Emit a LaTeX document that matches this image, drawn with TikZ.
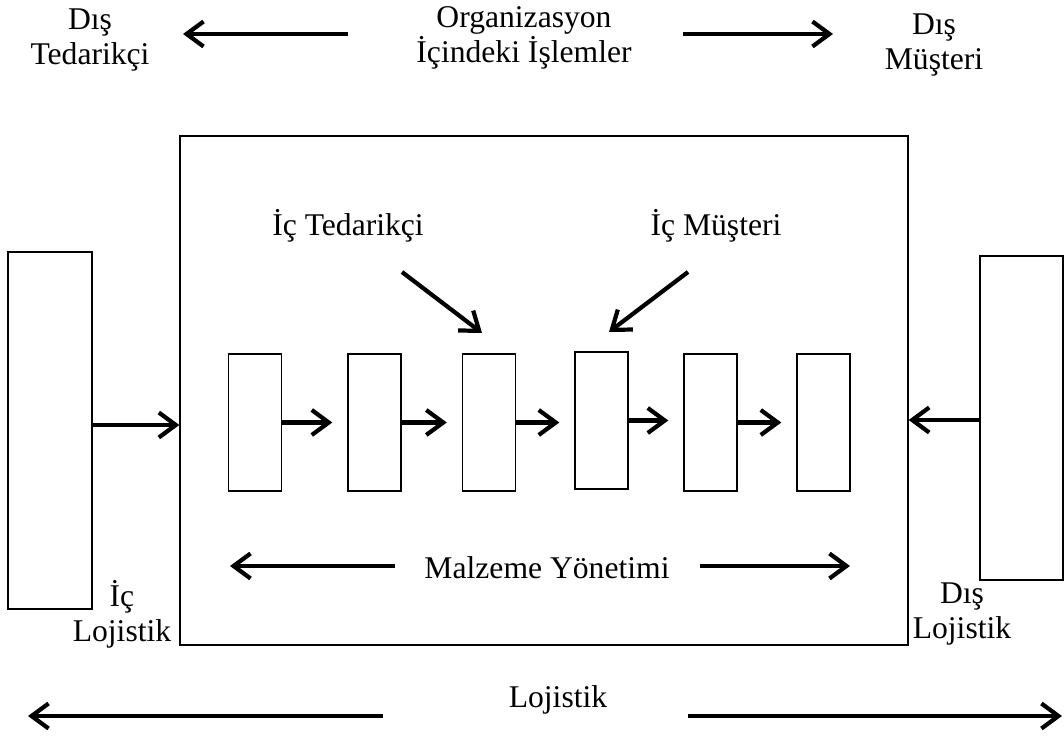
\documentclass[tikz,border=0pt]{standalone}
\usepackage{fontspec}
\setmainfont{Liberation Serif}
\usepackage{tikz}
\usetikzlibrary{arrows.meta,positioning,calc}

\begin{document}
\begin{tikzpicture}[
    x=0.02cm, y=-0.02cm,
    lbl/.style={align=center, inner sep=0pt, font=\fontsize{18}{20}\selectfont},
    blk/.style={rectangle, draw, line width=0.8pt, inner sep=0pt, minimum width=1.06cm, minimum height=2.74cm},
    tallbox/.style={rectangle, draw, line width=0.8pt, inner sep=0pt, minimum width=1.68cm},
    arrow/.style={-{Straight Barb[length=0.34cm, width=0.5cm, line width=2.4pt]}, line width=2.4pt}
]
    \useasboundingbox (0,0) rectangle (1064,736);

    % top labels
    \node[lbl] (dtedarik) at (90,40) {Dış\\Tedarikçi};
    \node[lbl] (orgin) at (524,38) {Organizasyon\\İçindeki İşlemler};
    \node[lbl] (dmusteri) at (934,45) {Dış\\Müşteri};
    \coordinate (tl1) at (348,34);
    \coordinate (tl2) at (183,34);
    \coordinate (tr1) at (683,34);
    \coordinate (tr2) at (833,34);

    % main frame and outer boxes
    \node[rectangle, draw, line width=0.8pt, inner sep=0pt, minimum width=14.56cm, minimum height=10.18cm] (org) at (544,390.5) {};
    \node[tallbox, minimum height=7.14cm] (lbox) at (50,430.5) {};
    \node[tallbox, minimum width=1.66cm, minimum height=6.48cm] (rbox) at (1021.5,418) {};

    % process steps
    \node[blk] (b1) at (255,422.5) {};
    \node[blk] (b2) at (374.5,422.5) {};
    \node[blk] (b3) at (489,422.5) {};
    \node[blk] (b4) at (601.5,420.5) {};
    \node[blk] (b5) at (710.5,422.5) {};
    \node[blk] (b6) at (823.5,422.5) {};

    \node[lbl] (itedarik) at (348,226) {İç Tedarikçi};
    \node[lbl] (imusteri) at (716,226) {İç Müşteri};
    \coordinate (it1) at (402,272);
    \coordinate (it2) at (482,333);
    \coordinate (im1) at (688,272);
    \coordinate (im2) at (609,332);

    \node[lbl] (malz) at (547,568) {Malzeme Yönetimi};
    \coordinate (ml1) at (395,566);
    \coordinate (ml2) at (230,566);
    \coordinate (mr1) at (700,566);
    \coordinate (mr2) at (850,566);

    \node[lbl] (iclojistik) at (122,614) {İç\\Lojistik};
    \node[lbl] (dislojistik) at (962,614) {Dış\\Lojistik};

    \node[lbl] (lojistik) at (558,700) {Lojistik};
    \coordinate (ll1) at (383,716);
    \coordinate (ll2) at (28,716);
    \coordinate (lr1) at (688,716);
    \coordinate (lr2) at (1062,716);

    \draw[arrow] (tl1) -- (tl2);
    \draw[arrow] (tr1) -- (tr2);
    \draw[arrow] (lbox.east |- 0,425) -- (org.west |- 0,425);
    \draw[arrow] (rbox.west |- 0,420) -- (org.east |- 0,420);
    \draw[arrow, shorten >=0.3cm] (b1) -- (b2);
    \draw[arrow, shorten >=0.3cm] (b2) -- (b3);
    \draw[arrow, shorten >=0.3cm] (b3.east) -- (b3.east -| b4.west);
    \draw[arrow, shorten >=0.3cm] (b4.east) -- (b4.east -| b5.west);
    \draw[arrow, shorten >=0.3cm] (b5) -- (b6);
    \draw[arrow] (it1) -- (it2);
    \draw[arrow] (im1) -- (im2);
    \draw[arrow] (ml1) -- (ml2);
    \draw[arrow] (mr1) -- (mr2);
    \draw[arrow] (ll1) -- (ll2);
    \draw[arrow] (lr1) -- (lr2);
\end{tikzpicture}
\end{document}
